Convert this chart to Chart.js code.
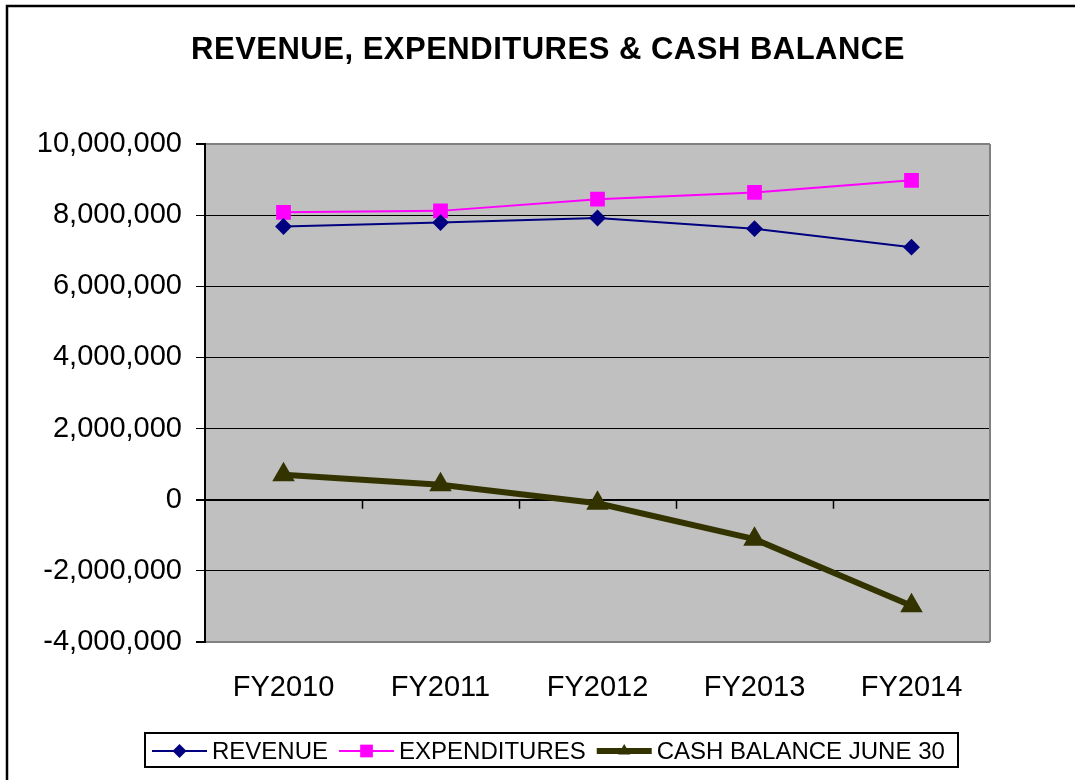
<!DOCTYPE html>
<html>
<head>
<meta charset="utf-8">
<script src="https://cdn.jsdelivr.net/npm/chart.js@4.4.0/dist/chart.umd.min.js"></script>
<style>
  html, body { margin: 0; padding: 0; background: #fff; }
  #wrap { width: 1075px; height: 780px; }
</style>
</head>
<body>
<div id="wrap"><canvas id="cashChart" width="1075" height="780"></canvas></div>
<script>
// Données
const labels = ['FY2010', 'FY2011', 'FY2012', 'FY2013', 'FY2014'];
const revenue = [7680000, 7790000, 7920000, 7620000, 7100000];
const expenditures = [8080000, 8120000, 8450000, 8640000, 8980000];
const cashBalance = [700000, 420000, -100000, -1110000, -2980000];
const seriesNames = ['REVENUE', 'EXPENDITURES', 'CASH BALANCE JUNE 30'];

const FONT = "'Liberation Sans', Arial, sans-serif";

// Décor : fond gris, bordures, axe du zéro, titre, légende
const decor = {
    id: 'decor',
    beforeDraw(chart) {
        const { ctx, chartArea: a } = chart;
        ctx.save();
        ctx.fillStyle = '#C0C0C0';
        ctx.fillRect(a.left, a.top, a.right - a.left, a.bottom - a.top);
        // cadre extérieur (haut et gauche)
        ctx.strokeStyle = '#000';
        ctx.lineWidth = 2.5;
        ctx.beginPath();
        ctx.moveTo(7, 780);
        ctx.lineTo(7, 6);
        ctx.lineTo(1075, 6);
        ctx.stroke();
        ctx.restore();
    },
    beforeDatasetsDraw(chart) {
        const { ctx, chartArea: a, scales } = chart;
        ctx.save();
        // bord droit gris
        ctx.strokeStyle = '#808080';
        ctx.lineWidth = 2;
        ctx.beginPath();
        ctx.moveTo(a.right, a.top);
        ctx.lineTo(a.right, a.bottom);
        ctx.stroke();
        // graduations sur la ligne du zéro
        const y0 = scales.y.getPixelForValue(0);
        const step = (scales.x.right - scales.x.left) / labels.length;
        ctx.strokeStyle = '#000';
        ctx.lineWidth = 1.5;
        ctx.beginPath();
        for (let i = 1; i < labels.length; i++) {
            const x = Math.round(scales.x.left + i * step) + 0.5;
            ctx.moveTo(x, y0);
            ctx.lineTo(x, y0 + 9);
        }
        ctx.stroke();
        ctx.restore();
    },
    afterDraw(chart) {
        const ctx = chart.ctx;
        ctx.save();
        // titre
        ctx.fillStyle = '#000';
        ctx.font = 'bold 31px ' + FONT;
        ctx.textAlign = 'center';
        ctx.textBaseline = 'middle';
        if ('letterSpacing' in ctx) ctx.letterSpacing = '0.5px';
        ctx.fillText('REVENUE, EXPENDITURES & CASH BALANCE', 548, 50);
        if ('letterSpacing' in ctx) ctx.letterSpacing = '0px';

        // légende
        ctx.strokeStyle = '#000';
        ctx.lineWidth = 2;
        ctx.strokeRect(145, 733, 813, 34);
        ctx.font = '24px ' + FONT;
        ctx.textAlign = 'left';
        const ly = 751;
        let x = 152;
        chart.data.datasets.forEach((ds) => {
            const sw = 55;
            ctx.strokeStyle = ds.borderColor;
            ctx.lineWidth = ds.borderWidth;
            ctx.beginPath();
            ctx.moveTo(x, ly);
            ctx.lineTo(x + sw, ly);
            ctx.stroke();
            drawMarker(ctx, ds.pointStyle, x + sw / 2, ly, ds.pointRadius, ds.pointBackgroundColor);
            x += sw + 5;
            ctx.fillStyle = '#000';
            ctx.fillText(ds.label, x, ly + 1);
            x += ctx.measureText(ds.label).width + 11;
        });
        ctx.restore();
    }
};

function drawMarker(ctx, style, x, y, r, color) {
    ctx.fillStyle = color;
    ctx.beginPath();
    if (style === 'rectRot') {
        ctx.moveTo(x, y - r); ctx.lineTo(x + r, y); ctx.lineTo(x, y + r); ctx.lineTo(x - r, y);
    } else if (style === 'rect') {
        const s = r * Math.SQRT1_2;
        ctx.rect(x - s, y - s, 2 * s, 2 * s);
    } else {
        ctx.moveTo(x, y - r); ctx.lineTo(x + r * 0.87, y + r * 0.5); ctx.lineTo(x - r * 0.87, y + r * 0.5);
    }
    ctx.closePath();
    ctx.fill();
}

document.addEventListener('DOMContentLoaded', () => {
    const ctx = document.getElementById('cashChart').getContext('2d');

    new Chart(ctx, {
        type: 'line',
        data: {
            labels: labels,
            datasets: [{
                label: seriesNames[0],
                data: revenue,
                borderColor: '#000080',
                backgroundColor: '#000080',
                pointBackgroundColor: '#000080',
                pointBorderColor: '#000080',
                borderWidth: 2,
                pointStyle: 'rectRot',
                pointRadius: 7,
                pointHoverRadius: 7
            }, {
                label: seriesNames[1],
                data: expenditures,
                borderColor: '#FF00FF',
                backgroundColor: '#FF00FF',
                pointBackgroundColor: '#FF00FF',
                pointBorderColor: '#FF00FF',
                borderWidth: 2,
                pointStyle: 'rect',
                pointRadius: 9,
                pointHoverRadius: 9
            }, {
                label: seriesNames[2],
                data: cashBalance,
                borderColor: '#333300',
                backgroundColor: '#333300',
                pointBackgroundColor: '#333300',
                pointBorderColor: '#333300',
                borderWidth: 6,
                pointStyle: 'triangle',
                pointRadius: 7,
                pointHoverRadius: 7
            }]
        },
        options: {
            responsive: false,
            animation: false,
            layout: { padding: { top: 144, right: 85, bottom: 0, left: 0 } },
            plugins: {
                legend: { display: false },
                title: { display: false },
                tooltip: { enabled: false }
            },
            scales: {
                x: {
                    offset: true,
                    afterFit: (scale) => { scale.height = 138; },
                    grid: { display: false, drawTicks: false },
                    border: { display: false },
                    ticks: {
                        color: '#000',
                        padding: 29,
                        font: { family: FONT, size: 29 }
                    }
                },
                y: {
                    min: -4000000,
                    max: 10000000,
                    afterFit: (scale) => { scale.width = 205; },
                    border: { display: true, color: '#000', width: 2 },
                    grid: {
                        color: (c) => (c.tick && (c.tick.value === 10000000 || c.tick.value === -4000000)) ? '#808080' : '#000',
                        lineWidth: (c) => (c.tick && (c.tick.value === 0 || c.tick.value === 10000000 || c.tick.value === -4000000)) ? 2 : 1,
                        tickColor: '#000',
                        tickLength: 9
                    },
                    ticks: {
                        stepSize: 2000000,
                        color: '#000',
                        padding: 14,
                        font: { family: FONT, size: 29 },
                        callback: (v) => v.toLocaleString('en-US')
                    }
                }
            }
        },
        plugins: [decor]
    });
});
</script>
</body>
</html>
